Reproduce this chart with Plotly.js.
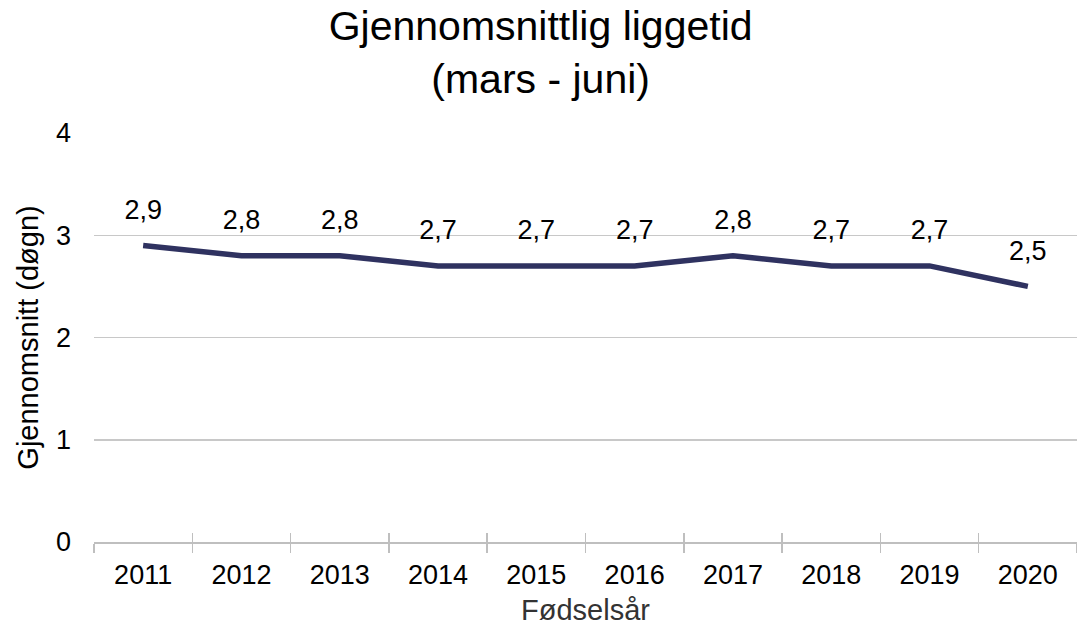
<!DOCTYPE html>
<html><head><meta charset="utf-8">
<script src="https://cdn.plot.ly/plotly-3.0.1.min.js"></script>
<style>html,body{margin:0;padding:0;background:#fff}</style>
</head><body>
<div id="chart" style="width:1077px;height:629px"></div>
<script>
const years = ['2011','2012','2013','2014','2015','2016','2017','2018','2019','2020'];
const avgDays = [2.9, 2.8, 2.8, 2.7, 2.7, 2.7, 2.8, 2.7, 2.7, 2.5];
const yTicks = [0, 1, 2, 3, 4];

const fontFam = 'Liberation Sans, Arial, sans-serif';
const trace = {
  x: years, y: avgDays, type: 'scatter', mode: 'lines+markers+text',
  line: {color: '#2f3260', width: 5.5},
  marker: {size: 30, opacity: 0, color: '#2f3260'},
  texttemplate: '%{y:.1f}', textposition: 'top center',
  textfont: {family: fontFam, size: 27, color: '#000'},
  cliponaxis: false, hoverinfo: 'skip'
};
const tickTrace = {x: years, y: avgDays, xaxis: 'x2', yaxis: 'y', mode: 'none', type: 'scatter', hoverinfo: 'skip', showlegend: false};
const layout = {
  width: 1077, height: 629,
  margin: {l: 94, r: 0, t: 133, b: 87},
  separators: ',.',
  showlegend: false,
  paper_bgcolor: '#fff', plot_bgcolor: '#fff',
  font: {family: fontFam, color: '#000'},
  title: {text: 'Gjennomsnittlig liggetid<br>(mars - juni)', font: {size: 41, color: '#000', family: fontFam}, x: 0.502, xanchor: 'center', y: 0.937, yanchor: 'top'},
  xaxis: {
    type: 'category', tickmode: 'array', tickvals: years, ticktext: years,
    showgrid: false, zeroline: false, showline: true, linecolor: '#bfbfbf', linewidth: 1.5,
    ticks: 'outside', tickson: 'boundaries', ticklen: 9, tickcolor: '#bfbfbf', tickwidth: 1.5,
    ticklabelstandoff: 8,
    tickfont: {size: 27, family: fontFam, color: '#000'},
    title: {text: 'Fødselsår', font: {size: 29, family: fontFam, color: '#333'}, standoff: 11},
    range: [-0.5, 9.5], automargin: false
  },
  xaxis2: {
    type: 'category', overlaying: 'x', tickmode: 'array', tickvals: years, ticktext: years.map(() => ''),
    showgrid: false, zeroline: false, showline: false,
    ticks: 'inside', tickson: 'boundaries', ticklen: 9, tickcolor: '#bfbfbf', tickwidth: 1.5,
    range: [-0.5, 9.5]
  },
  yaxis: {
    range: [0, 4], tickmode: 'array', tickvals: yTicks, ticktext: yTicks.map(String),
    showgrid: true, gridcolor: '#c8c8c8', gridwidth: 1.5, zeroline: false, showline: false,
    ticks: '', ticklabelstandoff: 22,
    tickfont: {size: 27, family: fontFam, color: '#000'},
    title: {text: 'Gjennomsnitt (døgn)', font: {size: 29, family: fontFam, color: '#000'}, standoff: 8},
    automargin: false
  }
};
Plotly.newPlot('chart', [trace, tickTrace], layout, {displayModeBar: false, staticPlot: true});
</script>
</body></html>
